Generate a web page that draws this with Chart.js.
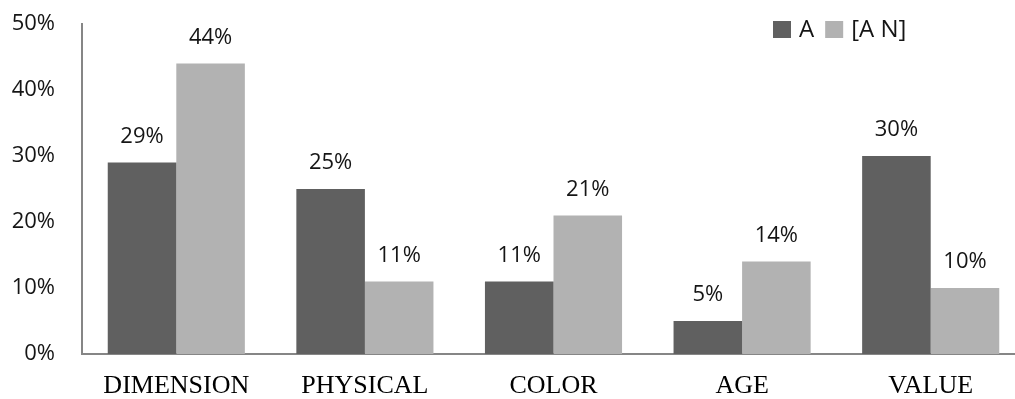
<!DOCTYPE html>
<html>
<head>
<meta charset="utf-8">
<script src="https://cdn.jsdelivr.net/npm/chart.js@4"></script>
<style>
  html, body { margin: 0; padding: 0; overflow: hidden; background: #fff; }
  canvas { display: block; }
</style>
</head>
<body>
<canvas id="graph" width="1025" height="399"></canvas>
<script>
const categories = ['DIMENSION', 'PHYSICAL', 'COLOR', 'AGE', 'VALUE'];
const seriesNames = ['A', '[A N]'];
const valuesA = [29, 25, 11, 5, 30];
const valuesAN = [44, 11, 21, 14, 10];
const yTicks = [0, 10, 20, 30, 40, 50];

const darkGrey = '#606060';
const lightGrey = '#b2b2b2';
const sansFont = '"Open Sans", "Noto Sans", sans-serif';

// value labels above each bar
const barLabels = {
  id: 'barLabels',
  afterDatasetsDraw(chart) {
    const ctx = chart.ctx;
    ctx.save();
    ctx.font = '22px ' + sansFont;
    ctx.fillStyle = '#151515';
    ctx.textAlign = 'center';
    ctx.textBaseline = 'middle';
    chart.data.datasets.forEach((ds, i) => {
      chart.getDatasetMeta(i).data.forEach((bar, j) => {
        ctx.fillText(ds.data[j] + '%', bar.x, bar.y - 26);
      });
    });
    ctx.restore();
  }
};

// legend sitting inside the plot, top right
const innerLegend = {
  id: 'innerLegend',
  afterDraw(chart) {
    const ctx = chart.ctx;
    ctx.save();
    ctx.font = '24px ' + sansFont;
    ctx.textBaseline = 'middle';
    ctx.textAlign = 'left';
    let x = 773;
    const top = 21;
    chart.data.datasets.forEach((ds) => {
      ctx.fillStyle = ds.backgroundColor;
      ctx.fillRect(x, top, 18, 17);
      x += 26;
      ctx.fillStyle = '#151515';
      ctx.fillText(ds.label, x, top + 9);
      x += ctx.measureText(ds.label).width + 11;
    });
    ctx.restore();
  }
};

new Chart(document.getElementById('graph').getContext('2d'), {
  type: 'bar',
  data: {
    labels: categories,
    datasets: [
      { label: seriesNames[0], data: valuesA, backgroundColor: darkGrey },
      { label: seriesNames[1], data: valuesAN, backgroundColor: lightGrey }
    ]
  },
  options: {
    responsive: false,
    animation: false,
    layout: { padding: { top: 24, right: 0, left: 0, bottom: 0 } },
    datasets: {
      bar: { barPercentage: 1, categoryPercentage: 0.727, borderWidth: 0 }
    },
    plugins: {
      legend: { display: false },
      tooltip: { enabled: false }
    },
    scales: {
      x: {
        grid: { display: false, drawTicks: false },
        border: { display: true, color: '#868686', width: 2 },
        ticks: {
          font: { family: '"Liberation Serif", "Times New Roman", serif', size: 26 },
          color: '#000',
          padding: 17,
          maxRotation: 0
        },
        afterFit(scale) { scale.height = 45; }
      },
      y: {
        min: 0,
        max: 50,
        grid: { display: false, drawTicks: false },
        border: { display: true, color: '#868686', width: 2 },
        afterBuildTicks(scale) { scale.ticks = yTicks.map(v => ({ value: v })); },
        ticks: {
          font: { family: sansFont, size: 22 },
          color: '#151515',
          padding: 27,
          callback: (v) => v + '%'
        },
        afterFit(scale) {
          scale.width = 82;
          scale.paddingTop = 0;
          scale.paddingBottom = 0;
        }
      }
    }
  },
  plugins: [barLabels, innerLegend]
});
</script>
</body>
</html>
